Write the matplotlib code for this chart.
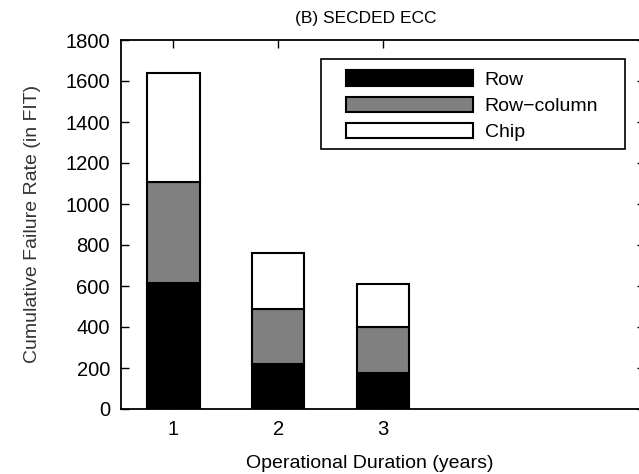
import matplotlib
matplotlib.use("Agg")
import matplotlib.pyplot as plt
from matplotlib.patches import Rectangle
import numpy as np

plt.rcParams['font.family'] = ['Liberation Sans', 'DejaVu Sans']

years = [1, 2, 3]
row = [615, 220, 177]
row_column = [490, 266, 225]
chip = [535, 276, 209]
yticks = [0, 200, 400, 600, 800, 1000, 1200, 1400, 1600, 1800]

W, H = 639, 474
fig = plt.figure(figsize=(W/100, H/100), dpi=100)
ax = fig.add_axes([121/W, 1-409/H, (645-121)/W, (409-40)/H])

x = np.array(years)
bw = 0.5
ax.bar(x, row, bw, color='black', edgecolor='black', linewidth=1.5, label='Row')
ax.bar(x, row_column, bw, bottom=row, color='#808080', edgecolor='black', linewidth=1.5, label='Row\u2212column')
b2 = np.array(row) + np.array(row_column)
ax.bar(x, chip, bw, bottom=b2, color='white', edgecolor='black', linewidth=1.5, label='Chip')

ax.set_xlim(0.5, 5.5)
ax.set_ylim(0, 1800)
ax.set_xticks(years)
ax.set_yticks(yticks)
ax.tick_params(direction='in', length=6, width=1, top=True, right=True, labelsize=14.5, pad=8, colors='black')
for s in ax.spines.values():
    s.set_linewidth(1.3)

fig.text(366/W, 1-18/H, '(B) SECDED ECC', ha='center', va='center', fontsize=12.5)
fig.text(370/W, 1-463/H, 'Operational Duration (years)', ha='center', va='center', fontsize=14)
fig.text(33/W, 1-224/H, 'Cumulative Failure Rate (in FIT)', ha='center', va='center', rotation=90, fontsize=14, color='#333333')

leg = ax.legend(loc='upper left', bbox_to_anchor=(345.7/W, 1-70.5/H), bbox_transform=fig.transFigure,
                borderaxespad=0, frameon=False, fontsize=14,
                handlelength=6.53, handleheight=0.875, labelspacing=0.38, handletextpad=0.62,
                borderpad=0)
for p in leg.get_patches():
    p.set_linewidth(1.5)

fig.add_artist(Rectangle((320.7/W, 1-149.3/H), (625-320.7)/W, (149.3-59.3)/H,
                         transform=fig.transFigure, fill=False, edgecolor='black', linewidth=1.2))

fig.savefig('out.png', dpi=100)
